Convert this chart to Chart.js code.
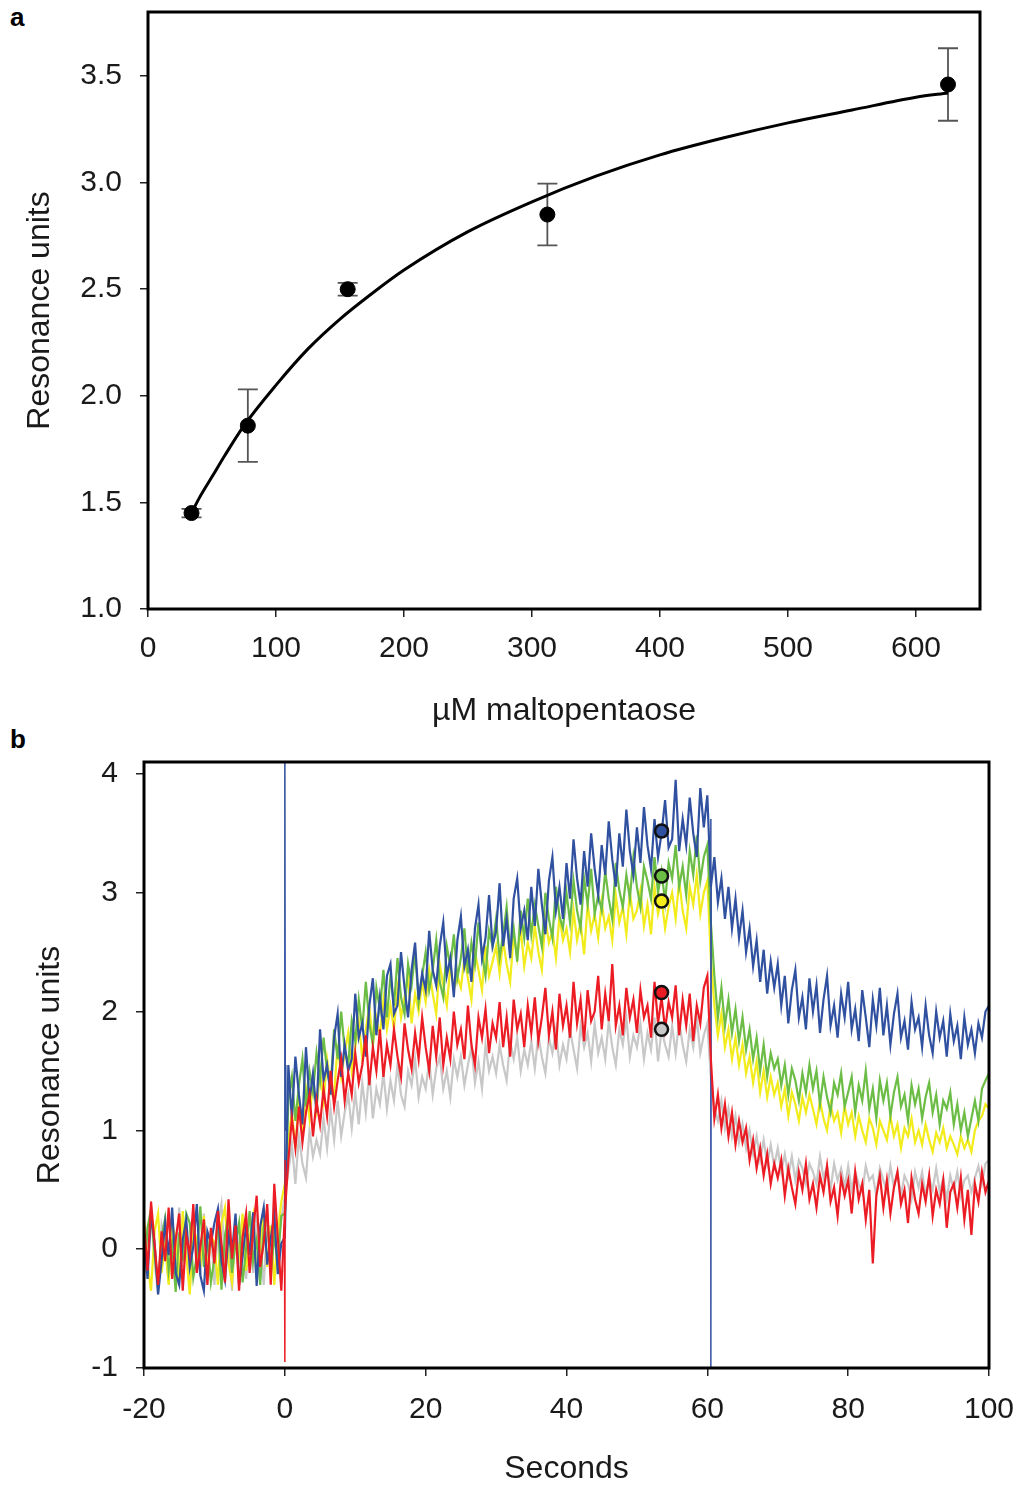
<!DOCTYPE html>
<html>
<head>
<meta charset="utf-8">
<script src="https://cdn.jsdelivr.net/npm/chart.js@4.4.1/dist/chart.umd.min.js"></script>
<style>
  body { margin: 0; background: #fff; width: 1021px; height: 1488px; position: relative; overflow: hidden; }
  canvas { position: absolute; left: 0; }
  #chartA { top: 0; }
  #chartB { top: 740px; }
  .panel { position: absolute; left: 10px; font: bold 26px "Liberation Sans", Arial, sans-serif; color: #000; }
</style>
</head>
<body>
<div class="panel" style="top:2px">a</div>
<div class="panel" style="top:724px">b</div>
<canvas id="chartA" width="1021" height="740"></canvas>
<canvas id="chartB" width="1021" height="748"></canvas>
<script>
// ---- panel a : binding vs concentration ----
const conc = [34, 78, 156, 312, 625];
const meanRU = [1.45, 1.86, 2.50, 2.85, 3.46];
const errRU = [0.02, 0.17, 0.03, 0.145, 0.17];
// fitted curve
const fitConc = [34, 40, 50, 60, 75, 100, 125, 150, 175, 200, 250, 300, 350, 400, 450, 500, 550, 600, 625];
const fitRU = [1.45, 1.52, 1.62, 1.72, 1.86, 2.05, 2.22, 2.36, 2.48, 2.59, 2.77, 2.91, 3.03, 3.13, 3.21, 3.28, 3.34, 3.40, 3.42];

// ---- panel b : sensorgrams, one value every 0.5 s from -20 s to 100 s ----
const blueRU = [
  0.12, -0.25, 0.3, 0.05, -0.38, -0.1, 0.22, -0.05, 0.35, -0.2,
  -0.3, 0.08, 0.25, -0.15, 0.02, 0.38, -0.22, -0.35, 0.15, 0.05,
  0.22, 0.34, -0.1, -0.26, 0.12, -0.03, 0.3, -0.3, -0.06, 0.2,
  -0.05, 0.31, -0.31, 0.19, 0.35, -0.13, 0.09, 0.29, -0.21, 0.05,
  0.1, 1.55, 1.1, 1.62, 1.3, 1.05, 1.7, 1.25, 1.48, 1.15,
  1.85, 1.42, 1.55, 1.3, 1.78, 1.98, 1.45, 1.72, 1.5, 1.6,
  2.15, 1.78, 1.9, 1.62, 2.05, 2.28, 1.8, 2.12, 1.85, 2.3,
  2.4, 1.98, 2.05, 2.5, 2.2, 1.95, 2.35, 2.58, 2.1, 2.32,
  2.18, 2.68, 2.35, 2.22, 2.55, 2.75, 2.3, 2.45, 2.12, 2.6,
  2.8, 2.38, 2.52, 2.25, 2.7, 2.9, 2.45, 2.62, 2.98, 2.55,
  2.68, 3.08, 2.55, 2.78, 2.45, 2.95, 3.12, 2.7, 2.85, 2.6,
  3.05, 2.72, 3.2, 2.9, 2.65, 3.1, 3.3, 2.85, 3.05, 2.78,
  3.25, 2.95, 3.45, 3.12, 2.9, 3.35, 3.05, 3.5, 3.2, 2.98,
  3.4, 3.15, 3.6, 3.28, 3.05, 3.5, 3.22, 3.7, 3.35, 3.15,
  3.55, 3.25, 3.72, 3.4, 3.2, 3.62, 3.3, 3.5, 3.78, 3.38,
  3.45, 3.95, 3.35, 3.62, 3.4, 3.8, 3.5, 3.3, 3.88, 3.55,
  3.82, 3.05, 3.3, 2.92, 3.12, 2.78, 3.05, 2.7, 2.95, 2.62,
  2.85, 2.5, 2.7, 2.38, 2.6, 2.25, 2.52, 2.15, 2.42, 2.2,
  2.4, 2.05, 2.3, 1.9, 2.18, 2.35, 1.95, 2.12, 1.85, 2.28,
  2.0, 2.22, 1.82, 2.1, 2.3, 1.88, 2.05, 1.78, 2.15, 1.95,
  2.25, 1.85, 2.02, 1.75, 2.18, 1.95, 1.7, 2.1, 1.88, 2.2,
  1.8, 2.05, 1.72, 1.98, 2.15, 1.78, 1.92, 1.68, 2.08, 1.85,
  1.95, 1.7, 2.05, 1.8, 1.65, 2.0, 1.78, 1.92, 1.62, 1.98,
  1.75, 1.88, 1.6, 1.95, 1.72, 1.85, 1.65, 1.9, 1.78, 2.0,
  2.05
];
const greenRU = [
  -0.2, 0.18, 0.34, -0.05, -0.32, 0.1, 0.26, -0.18, 0.04, -0.36,
  0.14, -0.1, 0.3, 0.22, -0.24, -0.06, 0.36, -0.15, 0.08, -0.28,
  -0.08, 0.25, -0.34, 0.12, 0.28, -0.2, 0.05, 0.22, -0.28, 0.0,
  0.32, -0.1, 0.08, -0.3, 0.18, 0.3, -0.22, 0.12, -0.12, 0.28,
  0.3, 1.25, 1.45, 1.08, 1.38, 1.6, 1.2, 1.5, 1.32, 1.65,
  1.42, 1.78, 1.5, 1.35, 1.85, 1.6, 2.0, 1.68, 1.55, 1.92,
  1.75, 2.1, 1.85, 2.25, 1.9, 1.72, 2.2, 2.02, 2.35, 1.95,
  2.3, 2.05, 2.45, 2.12, 1.98, 2.4, 2.22, 2.5, 2.08, 2.3,
  2.5, 2.18, 2.35, 2.6, 2.25, 2.12, 2.55, 2.38, 2.65, 2.28,
  2.45, 2.7, 2.32, 2.58, 2.4, 2.75, 2.48, 2.3, 2.68, 2.55,
  2.78, 2.45, 2.65, 2.88, 2.5, 2.7, 2.42, 2.85, 2.62, 2.95,
  2.65, 2.9, 2.72, 2.55, 3.0, 2.78, 2.62, 3.05, 2.8, 2.7,
  3.0, 2.75, 3.1, 2.85, 2.7, 3.12, 2.9, 3.2, 2.82, 2.98,
  2.85, 3.18, 2.95, 2.78, 3.25, 3.02, 2.88, 3.15, 2.95, 3.3,
  3.05, 2.88, 3.22, 3.1, 2.95, 3.3, 3.0, 3.18, 2.92, 3.25,
  3.12, 3.4, 3.05, 3.22, 2.98, 3.35, 3.15, 3.48, 3.1, 3.3,
  3.4, 2.75, 2.3, 1.95, 2.2, 1.88, 2.1, 1.82, 2.02, 1.75,
  1.95, 1.68, 1.85, 1.6, 1.78, 1.5, 1.72, 1.45, 1.65, 1.52,
  1.6, 1.38, 1.55, 1.3, 1.52, 1.42, 1.25, 1.48, 1.32, 1.55,
  1.35, 1.5, 1.22, 1.45, 1.28, 1.15, 1.4, 1.3, 1.48, 1.2,
  1.32, 1.45, 1.15, 1.38, 1.25, 1.5, 1.18, 1.35, 1.1, 1.42,
  1.25, 1.4, 1.12, 1.32, 1.45, 1.2, 1.3, 1.08, 1.38, 1.22,
  1.35, 1.1, 1.28, 1.4, 1.15, 1.3, 1.05, 1.25, 1.18, 1.32,
  1.05, 1.22, 1.0, 1.15, 0.95, 1.1, 1.25, 1.08, 1.35, 1.42,
  1.48
];
const yellowRU = [
  0.25, -0.12, -0.35, 0.15, 0.3, -0.2, 0.05, -0.3, 0.2, 0.1,
  -0.25, 0.32, -0.05, -0.38, 0.18, 0.08, -0.15, 0.28, -0.22, 0.12,
  0.05, -0.3, 0.22, 0.35, -0.12, -0.28, 0.15, -0.05, 0.3, -0.18,
  0.1, 0.28, -0.25, 0.02, 0.35, -0.15, 0.2, -0.3, 0.15, 0.4,
  0.55, 0.92, 1.15, 0.85, 1.28, 1.02, 1.35, 1.1, 1.42, 1.18,
  1.5, 1.25, 1.6, 1.38, 1.3, 1.72, 1.45, 1.65, 1.82, 1.5,
  1.7, 1.92, 1.6, 1.85, 2.05, 1.72, 1.95, 1.8, 2.1, 1.85,
  2.05, 1.85, 2.2, 1.95, 2.12, 2.3, 1.9, 2.15, 2.0, 2.25,
  2.08, 2.35, 2.15, 1.98, 2.4, 2.22, 2.05, 2.38, 2.18, 2.3,
  2.2, 2.45, 2.28, 2.1, 2.5, 2.35, 2.18, 2.55, 2.3, 2.42,
  2.55, 2.32, 2.6, 2.4, 2.25, 2.65, 2.45, 2.7, 2.38, 2.58,
  2.45, 2.72, 2.5, 2.35, 2.78, 2.58, 2.68, 2.45, 2.8, 2.6,
  2.7, 2.5, 2.85, 2.6, 2.75, 2.48, 2.9, 2.68, 2.82, 2.62,
  2.92, 2.7, 2.8, 2.6, 2.98, 2.75, 2.88, 2.65, 3.0, 2.78,
  2.85, 3.02, 2.72, 2.9, 2.65, 3.05, 2.82, 2.95, 2.7, 2.88,
  3.0, 2.78, 3.1, 2.85, 2.7, 3.05, 2.9, 3.15, 2.82, 3.0,
  3.1, 2.45, 2.05, 1.8, 1.98, 1.7, 1.85, 1.6, 1.78, 1.55,
  1.72, 1.48, 1.62, 1.4, 1.58, 1.32, 1.5, 1.28, 1.45, 1.3,
  1.4, 1.2, 1.35, 1.12, 1.32, 1.22, 1.08, 1.28, 1.15, 1.3,
  1.18, 1.05, 1.25, 1.1, 1.0, 1.22, 1.08, 1.15, 0.98, 1.2,
  1.05, 1.15, 0.95, 1.12, 1.0, 0.9, 1.1, 1.02, 0.88, 1.08,
  1.0, 0.92, 1.12, 0.95, 1.05, 0.85, 1.02, 0.95, 1.1, 0.9,
  1.0, 0.88, 1.05, 0.92, 0.82, 0.98, 0.9, 1.02, 0.85, 0.95,
  0.88, 0.8, 0.95, 0.85, 0.92, 0.82, 1.0, 1.08, 1.12, 1.22,
  1.18
];
const redRU = [
  0.22, -0.18, 0.4, 0.05, -0.3, 0.15, -0.1, 0.35, -0.25, 0.08,
  0.3, -0.35, 0.12, -0.05, 0.38, -0.2, 0.02, 0.25, -0.3, 0.18,
  -0.12, 0.32, 0.05, -0.28, 0.42, -0.08, 0.2, -0.35, 0.1, 0.3,
  -0.2, 0.15, 0.45, -0.15, 0.05, 0.38, -0.3, 0.55, 0.1, -0.35,
  0.3, 0.75, 1.1, 0.85, 1.2, 0.9, 1.15, 1.3, 0.95, 1.25,
  1.05, 1.35, 1.12, 1.5, 1.2, 1.42, 1.6, 1.25, 1.48, 1.3,
  1.65, 1.4, 1.55, 1.8, 1.38, 1.7, 1.5, 1.85, 1.45, 1.72,
  1.55, 1.85, 1.62, 1.45, 1.9, 1.68, 1.52, 1.82, 1.6, 1.95,
  1.7, 1.5, 1.88, 1.62, 1.95, 1.55, 1.78, 1.6, 2.0, 1.72,
  1.85, 1.6, 2.05, 1.72, 1.55, 1.95, 1.78, 2.02, 1.65, 1.9,
  1.78, 2.08, 1.7, 1.95, 1.62, 2.1, 1.85, 1.98, 1.7, 2.05,
  1.82, 2.12, 1.75, 1.95, 2.2, 1.8, 2.0, 1.68, 2.15, 1.88,
  2.05, 1.78, 2.25, 1.9, 2.1, 1.75, 2.18, 1.92, 2.0, 2.3,
  1.85, 2.15, 1.92, 2.4, 1.88, 2.05, 1.8, 2.2, 1.95, 2.1,
  1.82, 2.18, 1.95, 2.05, 1.78, 2.25, 1.9, 2.12, 1.85, 2.08,
  1.95, 2.22, 1.8, 2.1, 1.88, 2.15, 1.75, 2.05, 1.9, 2.2,
  2.3, 1.6, 1.1, 1.3, 1.02, 1.22, 0.95, 1.15, 0.88, 1.08,
  0.9, 1.02, 0.75, 0.92, 0.68, 0.85, 0.62, 0.8, 0.55, 0.72,
  0.6, 0.75, 0.45, 0.68, 0.52, 0.38, 0.65, 0.5, 0.72, 0.42,
  0.55, 0.35, 0.62, 0.48, 0.7, 0.4, 0.52, 0.28, 0.6, 0.45,
  0.58, 0.3, 0.65, 0.42, 0.55, 0.25, 0.5, -0.12, 0.45, 0.62,
  0.35, 0.58, 0.3, 0.52, 0.65, 0.38, 0.5, 0.22, 0.6, 0.42,
  0.3, 0.55, 0.4, 0.62, 0.28, 0.5, 0.38, 0.58, 0.18, 0.48,
  0.55, 0.35, 0.6, 0.25, 0.5, 0.12, 0.55, 0.4, 0.65, 0.48,
  0.58
];
const grayRU = [
  -0.25, 0.15, 0.32, -0.1, -0.38, 0.2, 0.05, -0.28, 0.25, -0.05,
  0.35, -0.15, 0.1, -0.32, 0.22, 0.0, -0.22, 0.3, -0.1, 0.15,
  -0.3, 0.2, 0.38, -0.12, 0.08, -0.35, 0.25, -0.05, 0.18, -0.25,
  0.12, -0.2, 0.3, 0.05, -0.3, 0.22, -0.1, 0.35, 0.0, 0.25,
  0.45, 0.65, 0.88, 0.55, 0.95, 0.72, 0.6, 1.0, 0.78, 0.92,
  0.8, 1.1, 0.85, 1.18, 0.92, 1.25, 0.95, 1.15, 1.3, 1.02,
  1.32, 1.05, 1.4, 1.15, 1.5, 1.1, 1.35, 1.22, 1.48, 1.18,
  1.42, 1.25, 1.55, 1.3, 1.2, 1.5, 1.38, 1.6, 1.28, 1.45,
  1.35, 1.58, 1.3, 1.52, 1.62, 1.35, 1.5, 1.28, 1.6, 1.45,
  1.62, 1.38, 1.55, 1.7, 1.4, 1.58, 1.35, 1.72, 1.5, 1.62,
  1.48, 1.72, 1.55, 1.42, 1.75, 1.6, 1.78, 1.5, 1.68, 1.55,
  1.75, 1.52, 1.8, 1.62, 1.48, 1.78, 1.65, 1.85, 1.55, 1.72,
  1.6, 1.85, 1.68, 1.52, 1.88, 1.7, 1.82, 1.58, 1.9, 1.65,
  1.78, 1.6, 1.92, 1.7, 1.55, 1.85, 1.72, 1.95, 1.62, 1.8,
  1.7, 1.9, 1.6, 1.82, 1.68, 1.95, 1.58, 1.85, 1.72, 1.62,
  1.88, 1.65, 1.92, 1.72, 1.58, 1.85, 1.7, 1.95, 1.65, 1.8,
  1.9, 1.45, 1.18, 1.08, 1.25, 1.02, 1.18, 0.95, 1.12, 0.9,
  1.05, 0.85, 1.0, 0.8, 0.95, 0.75, 0.92, 0.72, 0.88, 0.7,
  0.85, 0.65, 0.8, 0.62, 0.78, 0.58, 0.75, 0.68, 0.55, 0.72,
  0.65, 0.55, 0.78, 0.6, 0.7, 0.5, 0.72, 0.58, 0.68, 0.52,
  0.7, 0.5, 0.65, 0.55, 0.48, 0.7, 0.58, 0.62, 0.45, 0.68,
  0.58, 0.48, 0.7, 0.52, 0.65, 0.45, 0.62, 0.55, 0.42, 0.65,
  0.52, 0.65, 0.45, 0.6, 0.5, 0.68, 0.48, 0.6, 0.42, 0.62,
  0.5, 0.65, 0.45, 0.58, 0.62, 0.48, 0.6, 0.7, 0.55, 0.72,
  0.75
];
// injection artefacts (thin vertical spikes)
const blueSpikeSec = [0, 0, 0.07, 0.14];
const blueSpikeRU = [0.1, 4.4, 1.0, 1.55];
const blueDropSec = [60.5, 60.5, 60.55];
const blueDropRU = [3.62, -1.05, 3.1];
const redSpikeSec = [-0.05, 0, 0.05];
const redSpikeRU = [0.2, -0.95, 0.75];
// circled markers at 53.5 s
const markerSec = [53.5, 53.5, 53.5, 53.5, 53.5];
const markerRU = [3.52, 3.14, 2.93, 2.16, 1.85];
const markerColors = ['#3050a0', '#6cbd45', '#f2ec1c', '#ec1c24', '#c8c8c8'];

// time grid, every half second
const seconds = [];
for (let i = 0; i <= 240; i++) seconds.push(-20 + i * 0.5);

function pts(xs, ys) { return ys.map((v, i) => ({ x: xs[i], y: v })); }

const tickFont = { family: '"Liberation Sans", Arial, sans-serif', size: 30 };
const titleFont = { family: '"Liberation Sans", Arial, sans-serif', size: 32 };
const inkColor = '#1a1a1a';

const framePlugin = {
  id: 'frame',
  afterDatasetsDraw(chart) {
    const { ctx, chartArea: a } = chart;
    ctx.save();
    ctx.strokeStyle = '#000';
    ctx.lineWidth = 3;
    ctx.strokeRect(a.left, a.top, a.right - a.left, a.bottom - a.top);
    ctx.restore();
  }
};

const errorBarPlugin = {
  id: 'errorBars',
  beforeDatasetsDraw(chart) {
    const ctx = chart.ctx, xs = chart.scales.x, ys = chart.scales.y;
    ctx.save();
    ctx.strokeStyle = '#555';
    ctx.lineWidth = 1.8;
    conc.forEach((c, i) => {
      const x = xs.getPixelForValue(c);
      const lo = ys.getPixelForValue(meanRU[i] - errRU[i]);
      const hi = ys.getPixelForValue(meanRU[i] + errRU[i]);
      ctx.beginPath();
      ctx.moveTo(x, lo); ctx.lineTo(x, hi);
      ctx.moveTo(x - 10, lo); ctx.lineTo(x + 10, lo);
      ctx.moveTo(x - 10, hi); ctx.lineTo(x + 10, hi);
      ctx.stroke();
    });
    ctx.restore();
  }
};

function axisGrid() {
  return { drawOnChartArea: false, drawTicks: true, tickLength: 8, color: '#222', lineWidth: 1.5 };
}
// fixed axis box sizes, no extra room for overhanging labels
function fixBox(w, h) {
  return function (s) {
    if (w) s.width = w;
    if (h) s.height = h;
    s.paddingTop = 0; s.paddingBottom = 0; s.paddingLeft = 0; s.paddingRight = 0;
  };
}

new Chart(document.getElementById('chartA'), {
  type: 'line',
  data: {
    datasets: [
      {
        data: pts(conc, meanRU), showLine: false, pointRadius: 7.5,
        pointBackgroundColor: '#000', pointBorderColor: '#000', order: 0
      },
      {
        data: pts(fitConc, fitRU), borderColor: '#000', borderWidth: 3,
        pointRadius: 0, cubicInterpolationMode: 'monotone', order: 1
      }
    ]
  },
  options: {
    responsive: false, animation: false, devicePixelRatio: 1,
    layout: { padding: { top: 12, right: 41, left: 0, bottom: 0 } },
    plugins: { legend: { display: false }, tooltip: { enabled: false } },
    scales: {
      x: {
        type: 'linear', min: 0, max: 650,
        afterFit: fixBox(0, 131),
        grid: axisGrid(), border: { display: false },
        ticks: { stepSize: 100, includeBounds: false, font: tickFont, color: inkColor, padding: 14, maxRotation: 0 },
        title: { display: true, text: 'µM maltopentaose', font: titleFont, color: inkColor, padding: { top: 0, bottom: 10 } }
      },
      y: {
        min: 1.0, max: 3.8,
        afterFit: fixBox(148, 0),
        grid: axisGrid(), border: { display: false },
        ticks: { stepSize: 0.5, includeBounds: false, font: tickFont, color: inkColor, padding: 18,
          callback: v => v.toFixed(1) },
        title: { display: true, text: 'Resonance units', font: titleFont, color: inkColor, padding: { top: 21, bottom: 0 } }
      }
    }
  },
  plugins: [errorBarPlugin, framePlugin]
});

function trace(values, color, order) {
  return { data: pts(seconds, values), borderColor: color, borderWidth: 2.2, pointRadius: 0, order: order };
}
function spike(xs, ys, color, order) {
  return { data: pts(xs, ys), borderColor: color, borderWidth: 1.5, pointRadius: 0, order: order };
}

new Chart(document.getElementById('chartB'), {
  type: 'line',
  data: {
    datasets: [
      trace(grayRU, '#c8c8c8', 6),
      trace(yellowRU, '#f2ec1c', 5),
      trace(greenRU, '#6cbd45', 4),
      trace(blueRU, '#3050a0', 3),
      spike(blueSpikeSec, blueSpikeRU, '#3050a0', 3),
      spike(blueDropSec, blueDropRU, '#3050a0', 3),
      trace(redRU, '#ec1c24', 2),
      spike(redSpikeSec, redSpikeRU, '#ec1c24', 2),
      {
        data: pts(markerSec, markerRU), showLine: false, pointRadius: 6.5, pointBorderWidth: 2.5,
        pointBorderColor: '#111', pointBackgroundColor: markerColors, order: 0
      }
    ]
  },
  options: {
    responsive: false, animation: false, devicePixelRatio: 1,
    layout: { padding: { top: 22, right: 32, left: 0, bottom: 0 } },
    plugins: { legend: { display: false }, tooltip: { enabled: false } },
    scales: {
      x: {
        type: 'linear', min: -20, max: 100,
        afterFit: fixBox(0, 120),
        grid: axisGrid(), border: { display: false },
        ticks: { stepSize: 20, includeBounds: false, font: tickFont, color: inkColor, padding: 16, maxRotation: 0 },
        title: { display: true, text: 'Seconds', font: titleFont, color: inkColor, padding: { top: 0, bottom: 0 } }
      },
      y: {
        min: -1, max: 4.1,
        afterFit: fixBox(144, 0),
        grid: axisGrid(), border: { display: false },
        ticks: { stepSize: 1, includeBounds: false, font: tickFont, color: inkColor, padding: 18 },
        title: { display: true, text: 'Resonance units', font: titleFont, color: inkColor, padding: { top: 31, bottom: 0 } }
      }
    }
  },
  plugins: [framePlugin]
});
</script>
</body>
</html>
